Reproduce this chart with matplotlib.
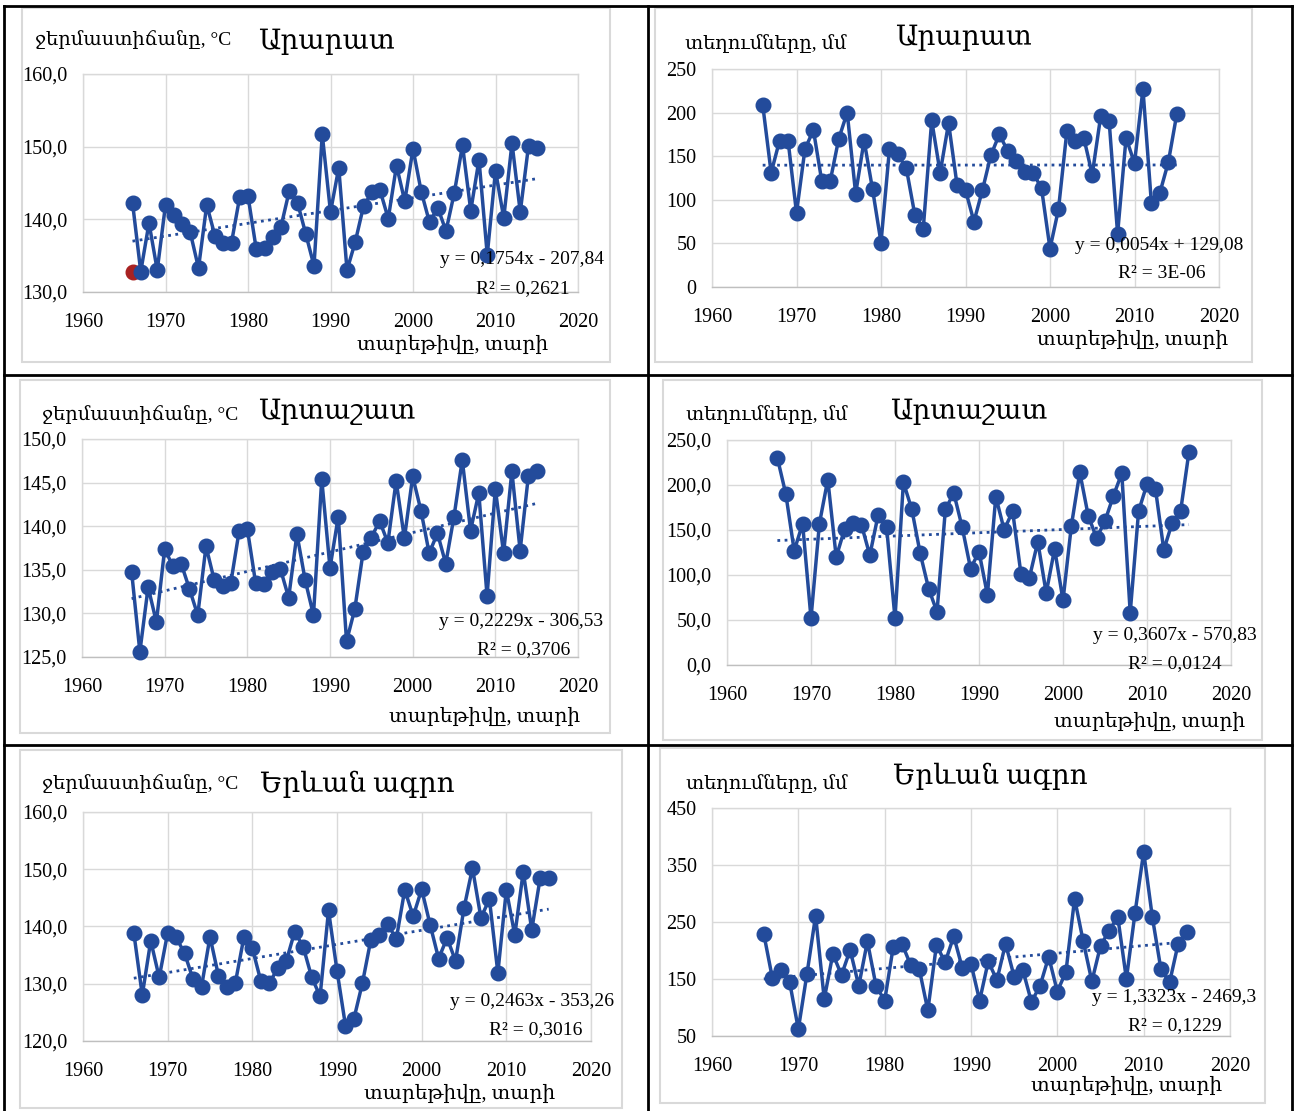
#!/usr/bin/env python3

"""
Six panels: annual series (1966-2015) of temperature sums and precipitation
for Ararat, Artashat and Yerevan agro stations, each with a linear trend.
"""

import numpy as np
import matplotlib
matplotlib.use('Agg')
from matplotlib import pyplot as plt
from matplotlib.patches import Rectangle
from matplotlib.lines import Line2D

plt.rcParams['font.family'] = ['Liberation Serif', 'DejaVu Serif', 'DejaVu Sans']

W, H = 1296, 1111

years = np.arange(1966, 2016)

ararat_temp = [142.3, 132.8, 139.5, 133.0, 142.0, 140.6, 139.3, 138.2, 133.3, 142.0,
               137.7, 136.7, 136.8, 143.1, 143.2, 135.9, 136.0, 137.6, 139.0, 143.9,
               142.3, 138.0, 133.6, 151.7, 141.0, 147.1, 133.0, 136.9, 141.8, 143.7,
               144.0, 140.1, 147.4, 142.5, 149.7, 143.8, 139.6, 141.6, 138.4, 143.6,
               150.2, 141.2, 148.2, 135.1, 146.7, 140.2, 150.5, 141.0, 150.1, 149.8]
ararat_marked = [1966, 132.8]

ararat_prec = [209, 131, 168, 168, 85, 158, 180, 121, 122, 170,
               200, 107, 168, 112, 51, 158, 152, 136, 83, 67,
               191, 131, 188, 117, 111, 75, 111, 151, 175, 156,
               145, 132, 131, 113, 44, 89, 179, 168, 171, 129,
               196, 190, 61, 171, 142, 227, 96, 108, 143, 198]

artashat_temp = [134.8, 125.6, 133.0, 129.0, 137.4, 135.4, 135.7, 132.8, 129.8, 137.7,
                 133.8, 133.1, 133.5, 139.4, 139.7, 133.5, 133.4, 134.8, 135.1, 131.8,
                 139.1, 133.8, 129.8, 145.4, 135.2, 141.1, 126.8, 130.5, 137.0, 138.7,
                 140.6, 138.1, 145.2, 138.6, 145.7, 141.8, 136.9, 139.2, 135.7, 141.1,
                 147.6, 139.5, 143.8, 132.0, 144.3, 136.9, 146.3, 137.2, 145.8, 146.3]

artashat_prec = [230, 190, 127, 157, 52, 157, 206, 120, 151, 158,
                 156, 122, 167, 153, 52, 203, 173, 124, 85, 59,
                 173, 191, 153, 107, 126, 78, 187, 150, 171, 101,
                 97, 137, 80, 129, 72, 155, 214, 166, 141, 160,
                 188, 213, 58, 171, 201, 196, 128, 158, 171, 237]

yerevan_temp = [138.9, 128.0, 137.5, 131.1, 138.9, 138.1, 135.3, 130.8, 129.5, 138.2,
                131.4, 129.5, 130.2, 138.1, 136.2, 130.5, 130.1, 132.7, 133.9, 139.1,
                136.5, 131.2, 127.8, 142.8, 132.3, 122.7, 123.9, 130.1, 137.7, 138.5,
                140.4, 137.8, 146.4, 141.8, 146.5, 140.3, 134.4, 138.0, 134.0, 143.2,
                150.2, 141.5, 144.8, 131.9, 146.4, 138.5, 149.6, 139.4, 148.5, 148.5]

yerevan_prec = [229, 151, 166, 144, 62, 159, 261, 115, 194, 157,
                201, 138, 216, 138, 112, 207, 212, 175, 168, 95,
                210, 179, 225, 169, 177, 112, 181, 148, 212, 154,
                166, 110, 138, 189, 128, 163, 291, 216, 146, 208,
                235, 259, 150, 266, 373, 259, 167, 144, 212, 233]

# trend coefficients (slope, intercept) and R² as printed on the charts
ararat_temp_fit = [0.1754, -207.84]
ararat_prec_fit = [0.0054, 129.08]
artashat_temp_fit = [0.2229, -306.53]
artashat_prec_fit = [0.3607, -570.83]
yerevan_temp_fit = [0.2463, -353.26]
yerevan_prec_fit = [1.3323, -2469.3]

eq_labels = ['y = 0,1754x - 207,84', 'y = 0,0054x + 129,08',
             'y = 0,2229x - 306,53', 'y = 0,3607x - 570,83',
             'y = 0,2463x - 353,26', 'y = 1,3323x - 2469,3']
r2_labels = ['R² = 0,2621', 'R² = 3E-06', 'R² = 0,3706',
             'R² = 0,0124', 'R² = 0,3016', 'R² = 0,1229']

stations = ['Արարատ', 'Արարատ', 'Արտաշատ', 'Արտաշատ', 'Երևան ագրո', 'Երևան ագրո']
temp_label = 'ջերմաստիճանը, °C'
prec_label = 'տեղումները, մմ'
year_label = 'տարեթիվը, տարի'

year_ticks = [1960, 1970, 1980, 1990, 2000, 2010, 2020]

BLUE = '#234b9b'
RED = '#a82222'
GRID = '#d9d9d9'


def fx(x):
    return x / W


def fy(y):
    return 1 - y / H


def panel(fig, i, series, fit, plot_px, frame_px, ylim, ystep, fmt, txt):
    # chart frame (light grey box as in the spreadsheet export)
    x0, y0, x1, y1 = frame_px
    fig.patches.append(Rectangle((fx(x0), fy(y1)), (x1 - x0) / W, (y1 - y0) / H,
                                 transform=fig.transFigure, fill=False,
                                 edgecolor=GRID, lw=1.5, zorder=0))

    l, t, r, b = plot_px
    ax = fig.add_axes([fx(l), fy(b), (r - l) / W, (b - t) / H])
    ax.set_xlim(1960, 2020)
    ax.set_ylim(*ylim)
    ax.set_xticks(year_ticks)
    yt = np.arange(ylim[0], ylim[1] + ystep / 2, ystep)
    ax.set_yticks(yt)
    ax.set_yticklabels([fmt(v) for v in yt])
    ax.tick_params(length=0, labelsize=14.5)
    ax.tick_params(axis='x', pad=15)
    ax.tick_params(axis='y', pad=11)
    ax.grid(True, color=GRID, lw=1.0)
    ax.set_axisbelow(True)
    for s in ax.spines.values():
        s.set_color(GRID)
        s.set_linewidth(1.0)
    ax.spines['bottom'].set_color('#bfbfbf')

    ax.plot(years, series, color=BLUE, lw=2.5, marker='o', ms=10.5,
            mfc=BLUE, mec=BLUE, zorder=3, clip_on=False)
    trend = fit[0] * years + fit[1]
    ax.plot(years[[0, -1]], trend[[0, -1]], color=BLUE, lw=2.0,
            ls=(0, (1, 1.6)), zorder=4)

    # texts, in pixel positions of the figure
    ylab, title, xlab, eq, r2 = txt
    fig.text(fx(ylab[0]), fy(ylab[1]), ylab[2], fontsize=14, ha='left', va='center')
    fig.text(fx(title[0]), fy(title[1]), stations[i], fontsize=20, ha='left', va='center')
    fig.text(fx(xlab[0]), fy(xlab[1]), year_label, fontsize=14.5, ha='right', va='center')
    fig.text(fx(eq[0]), fy(eq[1]), eq_labels[i], fontsize=14, ha='right', va='center')
    fig.text(fx(r2[0]), fy(r2[1]), r2_labels[i], fontsize=14, ha='right', va='center')
    return ax


def one_dec(v):
    return ('%.1f' % v).replace('.', ',')


def integer(v):
    return '%d' % v


def main():
    fig = plt.figure(figsize=(W / 100, H / 100), dpi=100)
    fig.patch.set_facecolor('white')

    ax1 = panel(fig, 0, ararat_temp, ararat_temp_fit,
                (83, 74, 578, 292), (22, 8, 610, 362), (130, 160), 10, one_dec,
                [(35, 40, temp_label), (258, 42), (548, 345), (604, 260), (570, 289)])
    ax1.plot([ararat_marked[0]], [ararat_marked[1]], 'o', color=RED, ms=10.5,
             zorder=2.5, clip_on=False)

    panel(fig, 1, ararat_prec, ararat_prec_fit,
          (712, 69, 1219, 287), (655, 8, 1252, 362), (0, 250), 50, integer,
          [(685, 44, prec_label), (895, 38), (1228, 340), (1243, 246), (1205, 274)])

    panel(fig, 2, artashat_temp, artashat_temp_fit,
          (82, 439, 578, 657), (20, 380, 610, 733), (125, 150), 5, one_dec,
          [(42, 415, temp_label), (258, 412), (580, 717), (603, 622), (570, 650)])

    panel(fig, 3, artashat_prec, artashat_prec_fit,
          (727, 440, 1231, 665), (663, 380, 1262, 740), (0, 250), 50, one_dec,
          [(686, 415, prec_label), (890, 412), (1245, 722), (1257, 635), (1222, 664)])

    panel(fig, 4, yerevan_temp, yerevan_temp_fit,
          (83, 812, 591, 1041), (20, 750, 622, 1108), (120, 160), 10, one_dec,
          [(42, 784, temp_label), (260, 784), (555, 1094), (614, 1001), (582, 1030)])

    panel(fig, 5, yerevan_prec, yerevan_prec_fit,
          (712, 808, 1230, 1036), (660, 748, 1265, 1103), (50, 450), 100, integer,
          [(686, 784, prec_label), (893, 776), (1222, 1086), (1256, 998), (1222, 1026)])

    # table grid around the panels
    lines = [((4, 6), (1292, 6)), ((4, 6), (4, 1110)), ((1292, 6), (1292, 1110)),
             ((648, 6), (648, 1110)), ((4, 375), (1292, 375)), ((4, 745), (1292, 745))]
    for (xa, ya), (xb, yb) in lines:
        fig.add_artist(Line2D([fx(xa), fx(xb)], [fy(ya), fy(yb)],
                              transform=fig.transFigure, color='black', lw=2.0))

    fig.savefig('out.png', dpi=100)


if __name__ == '__main__':
    main()
